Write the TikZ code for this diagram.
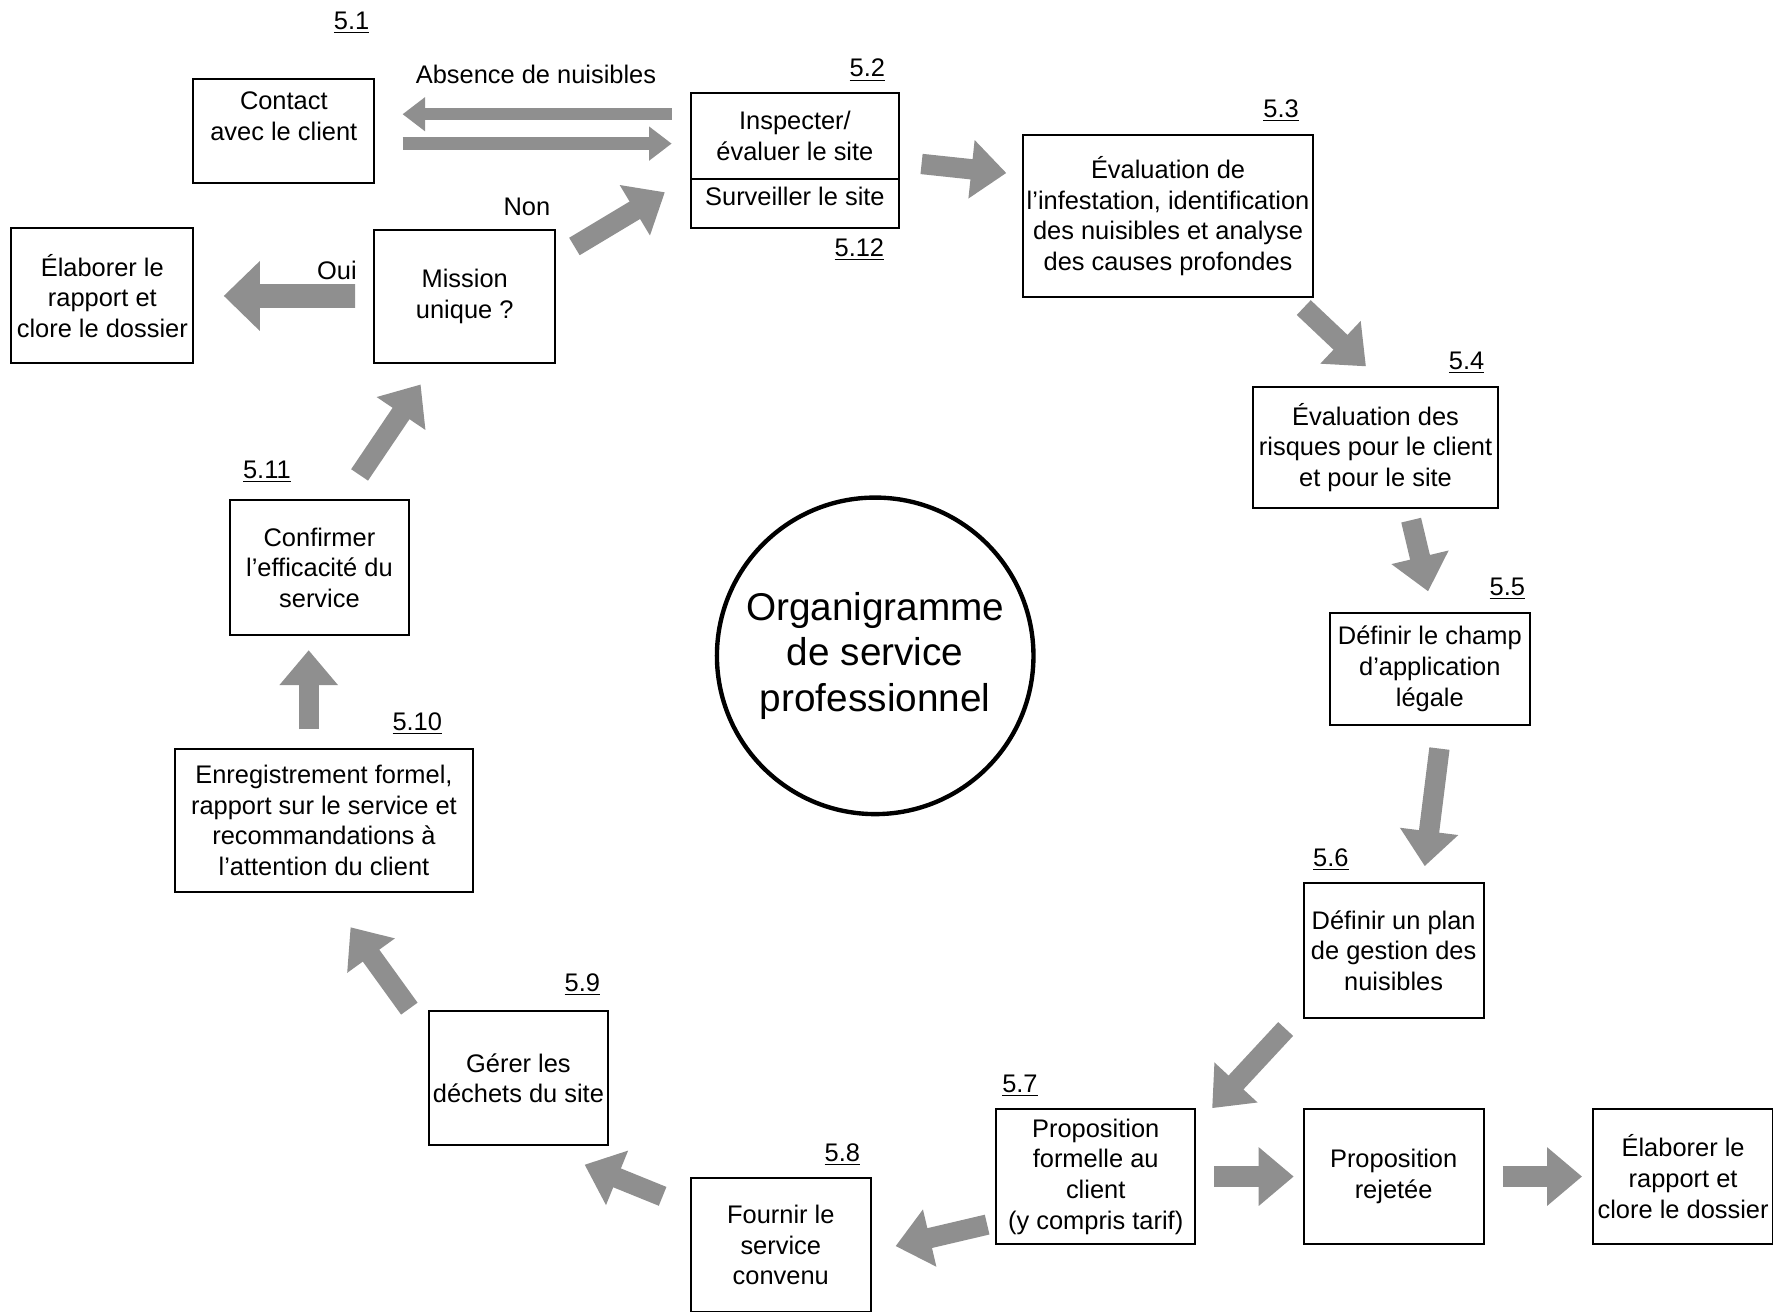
\documentclass[tikz,border=0pt]{standalone}
\usepackage{fontspec}
\setmainfont{Liberation Sans}
\usetikzlibrary{arrows.meta}
\definecolor{arrowgray}{gray}{0.56}
\tikzstyle{box}=[draw, line width=1pt, align=center, inner sep=1pt, minimum width=3.18cm, minimum height=2.38cm]
\tikzstyle{blk}=[arrowgray, line width=0.36cm, -{Triangle[width=1.0cm,length=0.62cm]}]
\tikzstyle{bigblk}=[arrowgray, line width=0.42cm, -{Triangle[width=1.2cm,length=0.64cm]}]
\tikzstyle{thinblk}=[arrowgray, line width=0.22cm, -{Triangle[width=0.58cm,length=0.40cm]}]
\tikzstyle{num}=[inner sep=0pt]

\begin{document}
\begin{tikzpicture}[x=0.02cm,y=-0.02cm,font=\fontsize{12.8}{15.4}\selectfont]
      \useasboundingbox (0,0) rectangle (1568,1160);

      \node [box, minimum width=3.2cm, minimum height=1.84cm] (contact) at (251,116) {Contact\\avec le client\\\mbox{}};
      \node [box, minimum width=3.68cm, minimum height=1.52cm] (insp) at (703,120) {Inspecter/\\évaluer le site};
      \node [box, minimum width=3.68cm, minimum height=0.88cm] (surv) at (703,180) {Surveiller le site\\[-8pt]\mbox{}};
      \node [box, minimum width=5.12cm, minimum height=2.88cm] (evalinf) at (1033,191) {Évaluation de\\l'infestation, identification\\des nuisibles et analyse\\des causes profondes};
      \node [box, minimum width=4.34cm, minimum height=2.14cm] (risk) at (1216.5,395.5) {Évaluation des\\risques pour le client\\et pour le site};
      \node [box, minimum width=3.54cm, minimum height=1.98cm] (scope) at (1264.5,591.5) {Définir le champ\\d'application\\légale};
      \node [box] (plan) at (1232.5,840.5) {Définir un plan\\de gestion des\\nuisibles};
      \node [box, minimum width=3.52cm] (prop) at (969,1040.5) {Proposition\\formelle au\\client\\(y compris tarif)};
      \node [box] (rej) at (1232.5,1040.5) {Proposition\\rejetée};
      \node [box] (close2) at (1488.5,1040.5) {Élaborer le\\rapport et\\clore le dossier};
      \node [box, minimum height=2.36cm] (serv) at (690.5,1101) {Fournir le\\service\\convenu};
      \node [box] (waste) at (458.5,953.5) {Gérer les\\déchets du site};
      \node [box, minimum width=5.26cm, minimum height=2.54cm] (report) at (286.5,725.5) {Enregistrement formel,\\rapport sur le service et\\recommandations à\\l'attention du client};
      \node [box, minimum height=2.4cm] (confirm) at (282.5,502) {Confirmer\\l'efficacité du\\service};
      \node [box, minimum width=3.2cm, minimum height=2.36cm] (mission) at (411,262) {Mission\\unique ?};
      \node [box, minimum width=3.22cm] (close1) at (90.5,261.5) {Élaborer le\\rapport et\\clore le dossier};

      \node [circle, draw, line width=2.2pt, minimum size=5.6cm, align=center, font=\fontsize{19.5}{22.8}\selectfont] (org) at (774,580) {Organigramme\\de service\\professionnel};

      \node [num] (n1) at (311,20) {\underline{5.1}};
      \node [num] (n2) at (767,62) {\underline{5.2}};
      \node [num] (n3) at (1133,98) {\underline{5.3}};
      \node [num] (n4) at (1297,321) {\underline{5.4}};
      \node [num] (n5) at (1333,521) {\underline{5.5}};
      \node [num] (n6) at (1177,760) {\underline{5.6}};
      \node [num] (n7) at (902,960) {\underline{5.7}};
      \node [num] (n8) at (745,1021) {\underline{5.8}};
      \node [num] (n9) at (515,871) {\underline{5.9}};
      \node [num] (n10) at (369,640) {\underline{5.10}};
      \node [num] (n11) at (236,417) {\underline{5.11}};
      \node [num] (n12) at (760,221) {\underline{5.12}};

      \node (absence) at (474,66) {Absence de nuisibles};
      \node (non) at (466,183) {Non};
      \node (oui) at (298,239) {Oui};

      % arrow ends
      \node (absA) [coordinate] at (594,101) {};
      \node (absB) [coordinate] at (356,101) {};
      \node (retA) [coordinate] at (356,127) {};
      \node (retB) [coordinate] at (594,127) {};
      \node (nonA) [coordinate] at (508,218) {};
      \node (nonB) [coordinate] at (588,170) {};
      \node (a4A) [coordinate] at (815,145) {};
      \node (a4B) [coordinate] at (890,153) {};
      \node (a5A) [coordinate] at (1153,272) {};
      \node (a5B) [coordinate] at (1208,324) {};
      \node (a6A) [coordinate] at (1248,460) {};
      \node (a6B) [coordinate] at (1263,523) {};
      \node (a7A) [coordinate] at (1273,662) {};
      \node (a7B) [coordinate] at (1260,766) {};
      \node (a8A) [coordinate] at (1137,910) {};
      \node (a8B) [coordinate] at (1072,980) {};
      \node (a11A) [coordinate] at (873,1083) {};
      \node (a11B) [coordinate] at (792,1102) {};
      \node (a12A) [coordinate] at (586,1058) {};
      \node (a12B) [coordinate] at (517,1030) {};
      \node (a13A) [coordinate] at (362,892) {};
      \node (a13B) [coordinate] at (310,820) {};
      \node (a14A) [coordinate] at (273,645) {};
      \node (a14B) [coordinate] at (273,575) {};
      \node (a15A) [coordinate] at (318,420) {};
      \node (a15B) [coordinate] at (372,340) {};

      \draw[thinblk] (absA) -- (absB);
      \draw[thinblk] (retA) -- (retB);
      \draw[blk] (nonA) -- (nonB);
      \draw[blk] (a4A) -- (a4B);
      \draw[blk] (a5A) -- (a5B);
      \draw[blk] (a6A) -- (a6B);
      \draw[blk] (a7A) -- (a7B);
      \draw[blk] (a8A) -- (a8B);
      \draw[blk, shorten <=0.32cm, shorten >=0.16cm] (prop) -- (rej);
      \draw[blk, shorten <=0.32cm, shorten >=0.18cm] (rej) -- (close2);
      \draw[blk] (a11A) -- (a11B);
      \draw[blk] (a12A) -- (a12B);
      \draw[blk] (a13A) -- (a13B);
      \draw[blk] (a14A) -- (a14B);
      \draw[blk] (a15A) -- (a15B);
      \draw[bigblk, shorten <=0.32cm, shorten >=0.52cm] (mission) -- (close1);
\end{tikzpicture}
\end{document}
